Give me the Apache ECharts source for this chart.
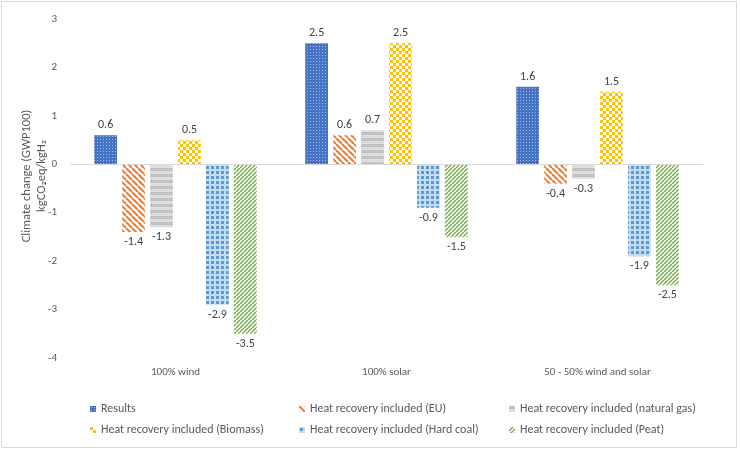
<!DOCTYPE html>
<html><head><meta charset="utf-8">
<script src="https://cdn.jsdelivr.net/npm/echarts@6/dist/echarts.min.js"></script>
<style>html,body{margin:0;padding:0;background:#fff}#c{width:740px;height:450px}</style>
</head><body><div id="c"></div>
<script>
const categories = ['100% wind', '100% solar', '50 - 50% wind and solar'];
const seriesNames = ['Results', 'Heat recovery included (EU)', 'Heat recovery included (natural gas)',
  'Heat recovery included (Biomass)', 'Heat recovery included (Hard coal)', 'Heat recovery included (Peat)'];
const results = [0.6, 2.5, 1.6];
const euHeat = [-1.4, 0.6, -0.4];
const gasHeat = [-1.3, 0.7, -0.3];
const biomassHeat = [0.5, 2.5, 1.5];
const coalHeat = [-2.9, -0.9, -1.9];
const peatHeat = [-3.5, -1.5, -2.5];
const yTicks = [-4, -3, -2, -1, 0, 1, 2, 3];

const FONT = 'Carlito, Lato, "Liberation Sans", sans-serif';

function tile(w, h, draw) {
  const c = document.createElement('canvas');
  c.width = w; c.height = h;
  const g = c.getContext('2d');
  draw(g, w, h);
  return { image: c, repeat: 'repeat' };
}
const patterns = [
  tile(3, 3, (g) => { g.fillStyle = '#4472C4'; g.fillRect(0,0,3,3); g.fillStyle = '#A9BFE8'; g.fillRect(1,1,1,1); }),
  tile(6, 6, (g) => { g.fillStyle = '#fff'; g.fillRect(0,0,6,6); g.strokeStyle = '#ED7D31'; g.lineWidth = 2;
    for (let o = -6; o <= 6; o += 6) { g.beginPath(); g.moveTo(o, 0); g.lineTo(o + 6, 6); g.stroke(); } }),
  tile(2, 6, (g) => { g.fillStyle = '#BDBDBD'; g.fillRect(0,0,2,3); g.fillStyle = '#E2E2E2'; g.fillRect(0,3,2,3);
    g.fillStyle = '#CFCFCF'; g.fillRect(0,1,1,1); g.fillRect(1,4,1,1); }),
  tile(6, 6, (g) => { g.fillStyle = '#fff'; g.fillRect(0,0,6,6); g.fillStyle = '#FFC000'; g.fillRect(0,0,3,3); g.fillRect(3,3,3,3); }),
  tile(5, 5, (g) => { g.fillStyle = '#C5DCF1'; g.fillRect(0,0,5,5); g.fillStyle = '#5B9BD5'; g.fillRect(1,1,3,3); }),
  tile(4, 4, (g) => { g.fillStyle = '#fff'; g.fillRect(0,0,4,4); g.strokeStyle = '#70AD47'; g.lineWidth = 1.4;
    for (let o = -4; o <= 8; o += 4) { g.beginPath(); g.moveTo(o, 4); g.lineTo(o + 4, 0); g.stroke(); } })
];
const dataSets = [results, euHeat, gasHeat, biomassHeat, coalHeat, peatHeat];

const chart = echarts.init(document.getElementById('c'), null, { renderer: 'canvas' });

const series = dataSets.map((d, i) => ({
  name: seriesNames[i],
  type: 'bar',
  data: d.map(v => ({ value: v, label: { position: v >= 0 ? 'top' : 'bottom' } })),
  barGap: '23%',
  barCategoryGap: '23%',
  itemStyle: { color: patterns[i] },
  label: {
    show: true,
    color: '#404040',
    fontSize: 12,
    fontFamily: FONT,
    distance: 4,
    formatter: (p) => Number(p.value).toFixed(1)
  },
  markLine: i === 0 ? {
    silent: true, symbol: 'none', animation: false,
    label: { show: false },
    lineStyle: { color: '#D9D9D9', type: 'solid', width: 1 },
    data: [{ yAxis: 0 }]
  } : undefined
}));

const legendPos = [[90, 402], [299, 402], [509, 402], [90, 423], [299, 423], [509, 423]];
const legends = seriesNames.map((n, i) => ({
  left: legendPos[i][0],
  top: legendPos[i][1],
  itemWidth: 6,
  itemHeight: 6,
  itemGap: 0,
  icon: 'rect',
  padding: 0,
  textStyle: { color: '#595959', fontSize: 12, fontFamily: FONT, lineHeight: 14 },
  data: [n]
}));

chart.setOption({
  animation: false,
  backgroundColor: '#fff',
  grid: { left: 70, right: 37, top: 19, bottom: 92 },
  legend: legends,
  xAxis: {
    type: 'category',
    data: categories,
    axisLine: { show: false, onZero: false },
    axisTick: { show: false },
    axisLabel: { color: '#595959', fontSize: 11, fontFamily: FONT, margin: 9 }
  },
  yAxis: {
    type: 'value',
    min: yTicks[0], max: yTicks[yTicks.length - 1], interval: 1,
    axisLine: { show: false },
    axisTick: { show: false },
    splitLine: { show: false },
    axisLabel: { color: '#595959', fontSize: 11, fontFamily: FONT, margin: 13 }
  },
  graphic: [
    { type: 'rect', shape: { x: 1.5, y: 1.5, width: 735, height: 446 }, style: { fill: 'none', stroke: '#D9D9D9', lineWidth: 1 }, silent: true },
    { type: 'text', x: 27, y: 176, rotation: Math.PI / 2,
      style: { text: 'Climate change (GWP100)', fill: '#595959', fontSize: 12.5, fontFamily: FONT, align: 'center', verticalAlign: 'middle' } },
    { type: 'text', x: 42, y: 176, rotation: Math.PI / 2,
      style: { text: 'kgCO₂eq/kgH₂', fill: '#595959', fontSize: 12.5, fontFamily: FONT, align: 'center', verticalAlign: 'middle' } }
  ],
  series: series
});
</script></body></html>
